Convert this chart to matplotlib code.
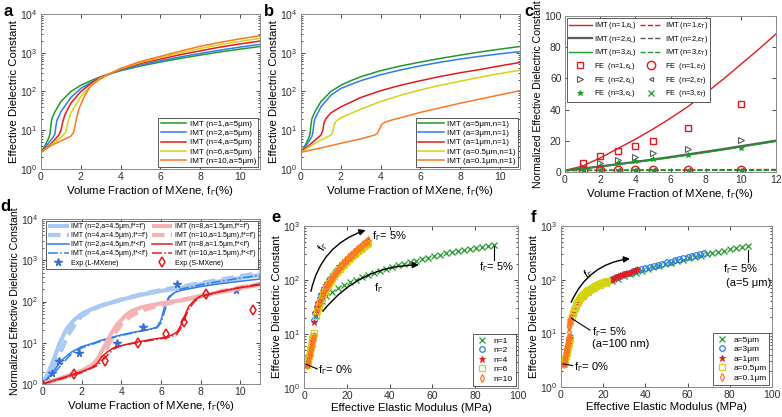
import matplotlib
matplotlib.use('Agg')
import matplotlib.pyplot as plt
from matplotlib.ticker import LogLocator, NullFormatter

plt.rcParams['font.family'] = ['Liberation Sans', 'DejaVu Sans']
plt.rcParams['mathtext.fontset'] = 'custom'
plt.rcParams['mathtext.rm'] = 'Liberation Sans'
plt.rcParams['mathtext.it'] = 'Liberation Sans:italic'
plt.rcParams['mathtext.bf'] = 'Liberation Sans:bold'

# ---------------- colours ----------------
GREEN = '#1f9a2a'
BLUE = '#2f7df0'
RED = '#e8191c'
YELLOW = '#d6d214'
ORANGE = '#ff7722'
GRAY = '#5a5a5a'
LBLUE = '#a9c9f2'
LRED = '#f3b3b3'

XLAB = r'Volume Fraction of MXene, f$_\Gamma$(%)'

# ---------------- panel a data ----------------
a_labels = ['IMT (n=1,a=5μm)', 'IMT (n=2,a=5μm)', 'IMT (n=4,a=5μm)',
            'IMT (n=6,a=5μm)', 'IMT (n=10,a=5μm)']
a_n1_x = [0, 0.2, 0.4, 0.45, 0.5, 0.55, 0.7, 1.0, 1.5, 2.0, 2.5, 3.0, 4, 5, 6, 7, 8, 9, 10, 11]
a_n1_y = [2.7, 4.0, 6.5, 8, 14, 20, 30, 55, 100, 145, 190, 240, 345, 455, 575, 715, 870, 1050, 1240, 1450]
a_n2_x = [0, 0.3, 0.6, 0.7, 0.75, 0.8, 1.0, 1.5, 2.0, 2.5, 3.0, 4, 5, 6, 7, 8, 9, 10, 11]
a_n2_y = [2.7, 4.2, 6.5, 8, 13, 18, 30, 70, 120, 170, 235, 355, 485, 625, 780, 960, 1170, 1400, 1650]
a_n4_x = [0, 0.5, 0.9, 1.0, 1.1, 1.2, 1.5, 2.0, 2.5, 3.0, 4, 5, 6, 7, 8, 9, 10, 11]
a_n4_y = [2.7, 4.5, 7.5, 10, 17, 25, 50, 100, 160, 235, 375, 530, 690, 890, 1120, 1400, 1690, 2000]
a_n6_x = [0, 0.5, 1.0, 1.25, 1.35, 1.5, 2.0, 2.5, 3.0, 4, 5, 6, 7, 8, 9, 10, 11]
a_n6_y = [2.7, 4.2, 6.5, 9, 16, 28, 75, 145, 225, 385, 565, 750, 990, 1290, 1620, 1970, 2350]
a_n10_x = [0, 0.5, 1.0, 1.5, 1.65, 1.75, 1.9, 2.2, 2.5, 3.0, 4, 5, 6, 7, 8, 9, 10, 11]
a_n10_y = [2.7, 4.0, 5.3, 7, 9, 17, 35, 80, 140, 215, 395, 595, 810, 1100, 1470, 1860, 2290, 2750]

# ---------------- panel b data ----------------
b_labels = ['IMT (a=5μm,n=1)', 'IMT (a=3μm,n=1)', 'IMT (a=1μm,n=1)',
            'IMT (a=0.5μm,n=1)', 'IMT (a=0.1μm,n=1)']
b_a5_x = a_n1_x
b_a5_y = a_n1_y
b_a3_x = [0, 0.3, 0.55, 0.6, 0.65, 0.7, 1.0, 1.5, 2, 3, 4, 5, 6, 7, 8, 9, 10, 11]
b_a3_y = [2.7, 4.3, 7, 9, 15, 20, 40, 80, 120, 190, 270, 360, 460, 570, 690, 810, 940, 1070]
b_a1_x = [0, 0.5, 1.0, 1.1, 1.15, 1.25, 1.5, 2, 3, 4, 5, 6, 7, 8, 9, 10, 11]
b_a1_y = [2.7, 4.5, 7.5, 10, 15, 20, 28, 40, 70, 105, 145, 190, 245, 305, 370, 460, 560]
b_a05_x = [0, 0.5, 1.0, 1.5, 1.6, 1.65, 1.75, 2, 3, 4, 5, 6, 7, 8, 9, 10, 11]
b_a05_y = [2.7, 4.0, 5.5, 7.5, 9, 13, 17, 21, 35, 55, 80, 110, 145, 185, 235, 290, 355]
b_a01_x = [0, 1, 2, 3, 3.7, 3.85, 3.95, 4.05, 4.2, 4.5, 5, 6, 7, 8, 9, 10, 11]
b_a01_y = [2.7, 3.5, 4.6, 6.0, 7.5, 8.5, 11, 14, 16, 18, 21, 29, 38, 50, 64, 82, 105]

# ---------------- panel c data ----------------
c_x = [0, 1, 2, 3, 4, 5, 6, 7, 8, 9, 10, 11, 12]
c_imt1_L = [1, 3.8, 9, 15, 21, 27.5, 34.5, 42, 50.5, 59.5, 69, 78.5, 88.5]
c_imt2_L = [1, 2.2, 3.6, 5.0, 6.5, 8.0, 9.6, 11.3, 13.0, 14.7, 16.5, 18.3, 20.1]
c_imt3_L = [1, 2.1, 3.4, 4.8, 6.2, 7.7, 9.2, 10.8, 12.5, 14.2, 16.0, 17.8, 19.6]
c_imt1_T = [1, 1.05, 1.1, 1.15, 1.2, 1.25, 1.3, 1.35, 1.4, 1.45, 1.5, 1.55, 1.6]
c_imt2_T = [1, 1.02, 1.04, 1.06, 1.08, 1.1, 1.12, 1.14, 1.16, 1.18, 1.2, 1.22, 1.24]
c_imt3_T = [1, 1.01, 1.02, 1.03, 1.04, 1.05, 1.06, 1.07, 1.08, 1.09, 1.1, 1.11, 1.12]
c_fe_x = [1, 2, 3, 4, 5, 7, 10]
c_fe1_L = [6, 10, 13.5, 16.5, 20, 28, 43.5]
c_fe2_L = [3.5, 5.5, 7.5, 9.5, 12.5, 15, 20.5]
c_fe3_L = [2.5, 4, 5.5, 7, 8.5, 11, 15.5]
c_fe1_T = [1.1, 1.1, 1.1, 1.1, 1.1, 1.1, 1.1]
c_fe2_T = [1.0, 1.0, 1.0, 1.0, 1.0, 1.0, 1.0]
c_fe3_T = [0.9, 0.9, 0.9, 0.9, 0.9, 0.9, 0.9]
c_labels = [r'IMT (n=1,ε$_{\rm L}$)', r'IMT (n=2,ε$_{\rm L}$)', r'IMT (n=3,ε$_{\rm L}$)',
            r'FE  (n=1,ε$_{\rm L}$)', r'FE  (n=2,ε$_{\rm L}$)', r'FE  (n=3,ε$_{\rm L}$)',
            r'IMT (n=1,ε$_{\rm T}$)', r'IMT (n=2,ε$_{\rm T}$)', r'IMT (n=3,ε$_{\rm T}$)',
            r'FE  (n=1,ε$_{\rm T}$)', r'FE  (n=2,ε$_{\rm T}$)', r'FE  (n=3,ε$_{\rm T}$)']

# ---------------- panel d data ----------------
d_lb1_x = [0, 0.3, 0.6, 0.9, 1.2, 1.6, 2, 2.5, 3, 4, 5, 6, 7, 8, 9, 10, 11]
d_lb1_y = [1, 1.8, 4, 10, 20, 35, 50, 65, 80, 110, 145, 180, 215, 260, 310, 370, 440]
d_lb2_x = [0, 0.5, 0.8, 1.0, 1.3, 1.7, 2, 2.5, 3, 4, 5, 6, 7, 8, 9, 10, 11]
d_lb2_y = [1, 2, 4, 7, 15, 30, 45, 62, 80, 112, 150, 190, 230, 280, 340, 410, 500]
d_b1_x = [0, 0.5, 1.0, 1.5, 2, 2.5, 3, 3.5, 4, 4.5, 5, 5.5, 5.8, 6.0, 6.2, 6.4, 6.7, 7, 8, 9, 10, 11]
d_b1_y = [1, 1.8, 3.8, 6, 8, 9.5, 11.5, 13.5, 15.5, 17.5, 19.5, 21.5, 24, 35, 80, 130, 165, 185, 230, 270, 310, 350]
d_b2_x = [0, 0.5, 1.0, 1.5, 2, 3, 4, 5, 5.8, 6.0, 6.2, 6.4, 6.7, 7, 8, 9, 10, 11]
d_b2_y = [1, 1.6, 3, 5.5, 7.5, 11, 15, 19, 23, 30, 60, 120, 170, 200, 255, 310, 370, 430]
d_lr1_x = [0, 1, 2, 2.5, 2.8, 3.0, 3.2, 3.5, 3.8, 4.2, 4.5, 5, 6, 7, 8, 9, 10, 11]
d_lr1_y = [1, 1.4, 2.1, 2.8, 4, 6, 9, 17, 28, 45, 58, 72, 90, 108, 135, 170, 210, 260]
d_lr2_x = [0, 1, 2, 2.8, 3.0, 3.3, 3.6, 4.0, 4.5, 5, 6, 7, 8, 9, 10, 11]
d_lr2_y = [1, 1.4, 2.0, 3.5, 4.5, 8, 15, 28, 45, 60, 82, 105, 135, 175, 220, 270]
d_r1_x = [0, 1, 2, 2.5, 2.8, 3.0, 3.3, 3.6, 4, 4.5, 5, 5.5, 6, 6.5, 6.8, 7.0, 7.2, 7.4, 7.7, 8, 9, 10, 11]
d_r1_y = [1, 1.4, 2.0, 2.5, 3.2, 4.5, 6, 7.5, 8.5, 9.7, 10.8, 12, 13, 15, 18, 26, 45, 75, 110, 135, 175, 215, 255]
d_r2_x = [0, 1, 2, 2.8, 3.0, 3.3, 3.6, 4, 5, 6, 6.5, 6.8, 7.0, 7.2, 7.4, 7.7, 8, 9, 10, 11]
d_r2_y = [1, 1.35, 1.9, 2.8, 3.5, 5, 7, 8.5, 10.5, 12.5, 14, 16, 22, 38, 65, 100, 130, 175, 220, 265]
d_expL_x = [0, 0.52, 0.86, 1.87, 3.79, 5.12, 6.8, 9.8]
d_expL_y = [1, 1.9, 3.6, 5.7, 10, 24, 265, 190]
d_expS_x = [0, 1.63, 3.18, 4.86, 6.25, 7.17, 8.28, 10.67]
d_expS_y = [1, 1.7, 3.7, 10, 16, 32, 150, 61]
d_labels = ['IMT (n=2,a=4.5μm,f*=f′)', 'IMT (n=4,a=4.5μm),f*=f′)',
            'IMT (n=2,a=4.5μm,f*<f′)', 'IMT (n=4,a=4.5μm),f*<f′)',
            'Exp (L-MXene)',
            'IMT (n=8,a=1.5μm,f*=f′)', 'IMT (n=10,a=1.5μm),f*=f′)',
            'IMT (n=8,a=1.5μm,f*<f′)', 'IMT (n=10,a=1.5μm),f*<f′)',
            'Exp (S-MXene)']

# ---------------- panel e data ----------------
e_n1_x = [1.5, 1.8, 2.1, 2.4, 2.7, 3.0, 3.3, 3.6, 3.9, 4.2, 5.5, 7.0, 8.5, 10.2, 13.0, 15.8, 18.6, 21.4,
          24.2, 27.0, 29.8, 32.6, 35.4, 38.2, 41.0, 43.8, 46.6, 49.4, 52.2, 55.0, 57.8, 60.6, 63.4,
          66.2, 69.0, 71.8, 74.6, 77.4, 80.2, 83.0, 85.8, 88.6]
e_n1_y = [2.7, 3.0, 3.4, 3.9, 4.5, 5.1, 5.8, 6.6, 7.4, 8.3, 22, 32, 41, 50, 61, 72, 82, 92, 102, 113,
          124, 136, 148, 160, 173, 186, 200, 214, 229, 244, 260, 276, 293, 310, 327, 344, 362, 380,
          398, 416, 434, 452]
e_n2_x = [1.5, 1.8, 2.1, 2.4, 2.7, 3.0, 3.3, 3.6, 3.9, 4.2, 4.5, 5.2, 5.9, 6.6, 7.3, 8.0, 8.7, 9.4,
          10.1, 10.8, 11.5, 12.2, 12.9, 13.6, 14.3, 15.0, 15.7, 16.4, 17.1, 17.8, 18.5, 19.2, 19.9,
          20.6, 21.3, 22.0, 22.7, 23.4, 24.1, 24.8, 25.5, 26.2, 26.9, 27.6, 28.3, 29.0, 29.7]
e_n2_y = [2.7, 3.0, 3.4, 3.9, 4.5, 5.1, 5.8, 6.6, 7.4, 8.5, 18, 25, 31, 38, 45, 52, 60, 68, 76, 85,
          94, 103, 113, 123, 133, 144, 155, 166, 178, 190, 203, 216, 229, 243, 257, 272, 287, 302,
          318, 334, 351, 368, 385, 403, 421, 440, 460]
e_n4_x = e_n2_x
e_n4_y = [2.7, 3.0, 3.4, 3.9, 4.5, 5.1, 5.8, 6.6, 7.5, 8.7, 17, 24, 31, 38, 46, 54, 62, 71, 80, 89,
          99, 109, 120, 131, 142, 154, 166, 179, 192, 206, 220, 235, 250, 266, 282, 299, 316, 334,
          352, 371, 390, 410, 430, 451, 473, 496, 520]
e_n6_x = [1.5, 1.8, 2.1, 2.4, 2.7, 3.0, 3.3, 3.6, 3.9, 4.2, 4.5, 5.5, 6.2, 6.9, 7.6, 8.3, 9.0, 9.7,
          10.4, 11.1, 11.8, 12.5, 13.2, 13.9, 14.6, 15.3, 16.0, 16.7, 17.4, 18.1, 18.8, 19.5, 20.2,
          20.9, 21.6, 22.3, 23.0, 23.7, 24.4, 25.1, 25.8, 26.5, 27.2, 27.9, 28.6, 29.3, 30.0]
e_n6_y = [2.7, 3.0, 3.4, 3.9, 4.5, 5.2, 6.0, 7.0, 8.2, 9.3, 10.5, 22, 27, 33, 40, 47, 54, 62, 70, 79,
          88, 97, 107, 117, 128, 139, 150, 162, 174, 187, 200, 214, 228, 243, 258, 274, 290, 307,
          324, 342, 360, 379, 399, 419, 440, 462, 485]
e_n10_x = [1.5, 1.8, 2.1, 2.4, 2.7, 3.0, 3.3, 3.6, 3.9, 4.2, 4.5, 6.0, 6.7, 7.4, 8.1, 8.8, 9.5, 10.2,
           10.9, 11.6, 12.3, 13.0, 13.7, 14.4, 15.1, 15.8, 16.5, 17.2, 17.9, 18.6, 19.3, 20.0, 20.7,
           21.4, 22.1, 22.8, 23.5, 24.2, 24.9, 25.6, 26.3, 27.0, 27.7, 28.4, 29.1, 29.8]
e_n10_y = [2.7, 2.9, 3.2, 3.6, 4.0, 4.6, 5.3, 6.1, 7.0, 8.0, 9.0, 27, 32, 38, 45, 52, 60, 68, 77, 86,
           96, 106, 117, 128, 140, 152, 165, 178, 192, 207, 222, 238, 255, 272, 290, 309, 328, 348,
           369, 391, 414, 437, 461, 486, 512, 540]
e_labels = ['n=1', 'n=2', 'n=4', 'n=6', 'n=10']

# ---------------- panel f data ----------------
f_a5_x = e_n1_x
f_a5_y = [2.7, 3.0, 3.4, 3.9, 4.5, 5.1, 5.8, 6.6, 7.4, 8.3, 24, 34, 42, 50, 60, 70, 79, 87, 96, 105,
          115, 125, 136, 147, 158, 170, 182, 195, 208, 222, 236, 251, 266, 282, 298, 314, 331, 348,
          365, 383, 401, 420]
f_a3_x = [1.5, 1.8, 2.1, 2.4, 2.7, 3.0, 3.3, 3.6, 3.9, 4.2, 4.5, 5.5, 7, 8.5, 10, 12, 14, 16, 18, 20,
          22, 24, 26, 28, 30, 32, 34, 36, 38, 40, 42, 44, 46, 48, 50, 52, 54, 56, 58, 60, 62, 64, 66, 68]
f_a3_y = [2.7, 3.0, 3.4, 3.8, 4.3, 4.9, 5.5, 6.2, 7.0, 7.8, 8.6, 24, 34, 42, 50, 58, 66, 74, 82, 89,
          95, 103, 111, 119, 127, 135, 143, 151, 159, 166, 174, 183, 191, 200, 209, 218, 228, 238,
          249, 260, 272, 284, 296, 310]
f_a1_x = [1.5, 1.8, 2.1, 2.4, 2.7, 3.0, 3.3, 3.6, 3.9, 4.2, 4.5, 5.5, 7, 8.5, 10, 11.5, 13, 14.5, 16,
          17.5, 19, 20.5, 22, 23, 24, 25, 26, 27, 28, 29, 30, 31, 32, 33, 34, 35, 36]
f_a1_y = [2.7, 3.0, 3.4, 3.8, 4.3, 4.9, 5.5, 6.2, 7.0, 7.8, 8.6, 24, 34, 42, 50, 56, 63, 69, 75, 80,
          86, 91, 96, 100, 104, 108, 112, 116, 120, 124, 128, 132, 136, 141, 146, 151, 157]
f_a05_x = [1.5, 1.8, 2.1, 2.4, 2.7, 3.0, 3.3, 3.6, 3.9, 4.2, 4.5, 5.0, 5.5, 6.0, 6.5, 7.0, 7.5, 8.0,
           8.5, 9.0, 9.5, 10, 10.5, 11, 11.5, 12, 12.5, 13, 13.5, 14, 14.5, 15, 15.5, 16, 16.5, 17,
           17.5, 18, 18.5, 19, 19.5, 20, 20.5, 21, 21.5, 22]
f_a05_y = [2.7, 3.0, 3.4, 3.8, 4.3, 4.9, 5.5, 6.2, 7.0, 7.8, 16, 20, 24, 27, 30, 33, 36, 39, 42, 45,
           47, 50, 52, 55, 57, 59, 61, 63, 65, 67, 69, 71, 73, 75, 77, 78, 80, 82, 83, 85, 86, 88, 89,
           91, 92, 94]
f_a01_x = [1.5, 1.6, 1.7, 1.8, 1.9, 2.0, 2.1, 2.2, 2.3, 2.4, 2.5, 2.6, 2.7, 2.8, 2.9, 3.0, 3.1, 3.2,
           3.3, 3.4, 3.5, 3.6, 3.7, 3.8, 3.9, 4.0, 4.1, 4.2, 4.3, 4.4, 4.5, 4.6, 4.7]
f_a01_y = [2.7, 2.8, 3.0, 3.1, 3.3, 3.5, 3.7, 3.9, 4.1, 4.3, 4.5, 4.8, 5.0, 5.3, 5.6, 5.9, 6.2, 6.5,
           6.9, 7.3, 7.7, 8.1, 8.6, 10.5, 13, 14.5, 15.5, 16.3, 17, 17.6, 18.2, 18.8, 19.4]
f_labels = ['a=5μm', 'a=3μm', 'a=1μm', 'a=0.5μm', 'a=0.1μm']

# ================= figure =================
W, H = 782, 417
fig = plt.figure(figsize=(W / 100, H / 100), dpi=100)


def box(l, r, t, b):
    return [l / W, 1 - b / H, (r - l) / W, (b - t) / H]


def style(ax, logy=False):
    ax.tick_params(direction='in', which='both', top=True, right=True, labelsize=7.5,
                   colors='#303030', width=0.6, pad=2.5)
    ax.tick_params(which='major', length=3)
    ax.tick_params(which='minor', length=1.6)
    for s in ax.spines.values():
        s.set_color('#8a8a8a')
        s.set_linewidth(0.7)
    if logy:
        ax.set_yscale('log')
        ax.yaxis.set_major_locator(LogLocator(base=10, numticks=10))
        ax.yaxis.set_minor_locator(LogLocator(base=10, subs=range(2, 10), numticks=20))
        ax.yaxis.set_minor_formatter(NullFormatter())


def frame(leg):
    leg.get_frame().set_linewidth(0.6)


LABFS = 8.2
LEGKW = dict(framealpha=1, edgecolor='#404040', fancybox=False)

# ---- a ----
ax = fig.add_axes(box(41, 260, 14, 169))
style(ax, True)
for xs, ys, c, lab in [(a_n1_x, a_n1_y, GREEN, a_labels[0]), (a_n2_x, a_n2_y, BLUE, a_labels[1]),
                       (a_n4_x, a_n4_y, RED, a_labels[2]), (a_n6_x, a_n6_y, YELLOW, a_labels[3]),
                       (a_n10_x, a_n10_y, ORANGE, a_labels[4])]:
    ax.plot(xs, ys, color=c, lw=1.1, label=lab)
ax.set_xlim(0, 11)
ax.set_ylim(1, 1e4)
ax.set_xticks([0, 2, 4, 6, 8, 10])
ax.set_xlabel(XLAB, fontsize=LABFS, labelpad=1)
ax.set_ylabel('Effective Dielectric Constant', fontsize=LABFS, labelpad=1)
frame(ax.legend(loc='lower right', fontsize=5.8, handlelength=3.2, labelspacing=0.2, borderpad=0.3,
                handletextpad=0.4, borderaxespad=0.2, **LEGKW))

# ---- b ----
ax = fig.add_axes(box(301, 520, 14, 169))
style(ax, True)
for xs, ys, c, lab in [(b_a5_x, b_a5_y, GREEN, b_labels[0]), (b_a3_x, b_a3_y, BLUE, b_labels[1]),
                       (b_a1_x, b_a1_y, RED, b_labels[2]), (b_a05_x, b_a05_y, YELLOW, b_labels[3]),
                       (b_a01_x, b_a01_y, ORANGE, b_labels[4])]:
    ax.plot(xs, ys, color=c, lw=1.1, label=lab)
ax.set_xlim(0, 11)
ax.set_ylim(1, 1e4)
ax.set_xticks([0, 2, 4, 6, 8, 10])
ax.set_xlabel(XLAB, fontsize=LABFS, labelpad=1)
ax.set_ylabel('Effective Dielectric Constant', fontsize=LABFS, labelpad=1)
frame(ax.legend(loc='lower right', fontsize=5.8, handlelength=3.2, labelspacing=0.2, borderpad=0.3,
                handletextpad=0.4, borderaxespad=0.2, **LEGKW))

# ---- c ----
ax = fig.add_axes(box(565, 776, 16, 172))
style(ax, False)
h1, = ax.plot(c_x, c_imt1_L, color=RED, lw=1.0)
h2, = ax.plot(c_x, c_imt2_L, color=GRAY, lw=1.6)
h3, = ax.plot(c_x, c_imt3_L, color=GREEN, lw=1.0)
h4, = ax.plot(c_x, c_imt1_T, color=RED, lw=1.0, ls='--')
h5, = ax.plot(c_x, c_imt2_T, color=GRAY, lw=1.0, ls='--')
h6, = ax.plot(c_x, c_imt3_T, color=GREEN, lw=1.0, ls='--')
m1, = ax.plot(c_fe_x, c_fe1_L, ls='none', marker='s', ms=4, mfc='none', mec=RED, mew=1.0)
m2, = ax.plot(c_fe_x, c_fe2_L, ls='none', marker='>', ms=4.5, mfc='none', mec=GRAY, mew=0.8)
m3, = ax.plot(c_fe_x, c_fe3_L, ls='none', marker='*', ms=4, color=GREEN, mew=0.6)
m4, = ax.plot(c_fe_x, c_fe1_T, ls='none', marker='o', ms=6, mfc='none', mec=RED, mew=1.0)
m5, = ax.plot(c_fe_x, c_fe2_T, ls='none', marker='<', ms=3, mfc='none', mec=GRAY, mew=0.8)
m6, = ax.plot(c_fe_x, c_fe3_T, ls='none', marker='x', ms=4, color=GREEN, mew=0.9)
ax.set_xlim(0, 12)
ax.set_ylim(0, 100)
ax.set_xticks([0, 2, 4, 6, 8, 10, 12])
ax.set_yticks([0, 20, 40, 60, 80, 100])
ax.set_xlabel(XLAB, fontsize=LABFS, labelpad=1)
ax.set_ylabel('Normalized Effective Dielectric Constant', fontsize=7.6, labelpad=1)
frame(ax.legend([h1, h2, h3, m1, m2, m3, h4, h5, h6, m4, m5, m6], c_labels, loc='upper left', ncol=2,
                fontsize=5.4, handlelength=3.0, labelspacing=0.35, borderpad=0.3, columnspacing=0.4,
                handletextpad=0.3, borderaxespad=0.25, **LEGKW))

# ---- d ----
ax = fig.add_axes(box(42, 260, 219, 384))
style(ax, True)
hd = []
hd.append(ax.plot(d_lb1_x, d_lb1_y, color=LBLUE, lw=3.0, solid_capstyle='butt')[0])
hd.append(ax.plot(d_lb2_x, d_lb2_y, color=LBLUE, lw=3.0, ls=(0, (3, 1.5)))[0])
hd.append(ax.plot(d_b1_x, d_b1_y, color=BLUE, lw=1.1)[0])
hd.append(ax.plot(d_b2_x, d_b2_y, color=BLUE, lw=1.1, ls='-.')[0])
hd.append(ax.plot(d_expL_x, d_expL_y, ls='none', marker='*', ms=5.5, color='#3a6fd0')[0])
hd.append(ax.plot(d_lr1_x, d_lr1_y, color=LRED, lw=3.0, solid_capstyle='butt')[0])
hd.append(ax.plot(d_lr2_x, d_lr2_y, color=LRED, lw=3.0, ls=(0, (3, 1.5)))[0])
hd.append(ax.plot(d_r1_x, d_r1_y, color=RED, lw=1.1)[0])
hd.append(ax.plot(d_r2_x, d_r2_y, color=RED, lw=1.1, ls='-.')[0])
hd.append(ax.plot(d_expS_x, d_expS_y, ls='none', marker='d', ms=5, mfc='none', mec=RED, mew=1.1)[0])
ax.set_xlim(0, 11)
ax.set_ylim(1, 1e4)
ax.set_xticks([0, 2, 4, 6, 8, 10])
ax.set_xlabel(XLAB, fontsize=LABFS, labelpad=1)
ax.set_ylabel('Normalized Effective Dielectric Constant', fontsize=7.6, labelpad=1)
frame(ax.legend(hd, d_labels, loc='upper right', ncol=2, fontsize=5.0, handlelength=3.0,
                labelspacing=0.3, borderpad=0.3, columnspacing=0.5, handletextpad=0.4,
                borderaxespad=0.3, **LEGKW))

# ---- e ----
ax = fig.add_axes(box(304, 518, 226, 388))
style(ax, True)
ax.plot(e_n1_x, e_n1_y, ls='none', marker='x', ms=4, color=GREEN, mew=0.9, label=e_labels[0])
ax.plot(e_n2_x, e_n2_y, ls='none', marker='o', ms=4, mfc='none', mec=BLUE, mew=0.9, label=e_labels[1])
ax.plot(e_n4_x, e_n4_y, ls='none', marker='*', ms=4.5, color=RED, mew=0.6, label=e_labels[2])
ax.plot(e_n6_x, e_n6_y, ls='none', marker='s', ms=3.8, mfc='none', mec=YELLOW, mew=0.9, label=e_labels[3])
ax.plot(e_n10_x, e_n10_y, ls='none', marker='d', ms=4, mfc='none', mec=ORANGE, mew=0.9, label=e_labels[4])
ax.set_xlim(0, 100)
ax.set_ylim(1, 1e3)
ax.set_xticks([0, 20, 40, 60, 80, 100])
ax.set_xlabel('Effective Elastic Modulus (MPa)', fontsize=LABFS, labelpad=1)
ax.set_ylabel('Effective Dielectric Constant', fontsize=LABFS, labelpad=1)
arrow = dict(arrowstyle='-|>', color='black', lw=1.0, mutation_scale=9)
ax.annotate('', xy=(30, 870), xytext=(3, 55),
            arrowprops=dict(arrow, connectionstyle='arc3,rad=-0.3'))
ax.annotate('', xy=(55, 190), xytext=(8, 24),
            arrowprops=dict(arrow, connectionstyle='arc3,rad=-0.25'))
ax.text(9, 420, r'f$_\Gamma$', fontsize=8, rotation=60, ha='center', va='center')
ax.text(35, 72, r'f$_\Gamma$', fontsize=8, rotation=0, ha='center', va='center')
ax.text(32, 650, r'f$_\Gamma$= 5%', fontsize=8, ha='left', va='center')
ax.text(82, 175, r'f$_\Gamma$= 5%', fontsize=8, ha='left', va='center')
ax.plot([88.8, 88.8], [230, 420], color='black', lw=0.8)
ax.plot([1, 6.2], [2.75, 2.25], color='black', lw=0.8)
ax.text(6.5, 2.15, r'f$_\Gamma$= 0%', fontsize=8, ha='left', va='center')
frame(ax.legend(loc='lower right', fontsize=6, handlelength=1.5, labelspacing=0.2, borderpad=0.35,
                handletextpad=0.6, borderaxespad=0.3, **LEGKW))

# ---- f ----
ax = fig.add_axes(box(561, 772, 226, 387))
style(ax, True)
ax.plot(f_a5_x, f_a5_y, ls='none', marker='x', ms=4, color=GREEN, mew=0.9, label=f_labels[0])
ax.plot(f_a3_x, f_a3_y, ls='none', marker='o', ms=4, mfc='none', mec=BLUE, mew=0.9, label=f_labels[1])
ax.plot(f_a1_x, f_a1_y, ls='none', marker='*', ms=4.5, color=RED, mew=0.6, label=f_labels[2])
ax.plot(f_a05_x, f_a05_y, ls='none', marker='s', ms=3.8, mfc='none', mec=YELLOW, mew=0.9, label=f_labels[3])
ax.plot(f_a01_x, f_a01_y, ls='none', marker='d', ms=4, mfc='none', mec=ORANGE, mew=0.9, label=f_labels[4])
ax.set_xlim(0, 100)
ax.set_ylim(1, 1e3)
ax.set_xticks([0, 20, 40, 60, 80, 100])
ax.set_xlabel('Effective Elastic Modulus (MPa)', fontsize=LABFS, labelpad=1)
ax.set_ylabel('Effective Dielectric Constant', fontsize=LABFS, labelpad=1)
ax.annotate('', xy=(34, 250), xytext=(4.3, 34),
            arrowprops=dict(arrow, connectionstyle='arc3,rad=-0.3'))
ax.text(13, 130, r'f$_\Gamma$', fontsize=8, rotation=30, ha='center', va='center')
ax.plot([88.7, 88.7], [210, 350], color='black', lw=0.8)
ax.text(77, 160, r'f$_\Gamma$= 5%', fontsize=8, ha='left', va='center')
ax.text(78, 88, '(a=5 μm)', fontsize=8, ha='left', va='center')
ax.plot([5, 13.7], [19, 11.5], color='black', lw=0.8)
ax.text(14.5, 10.7, r'f$_\Gamma$= 5%', fontsize=8, ha='left', va='center')
ax.text(14.5, 6.2, '(a=100 nm)', fontsize=8, ha='left', va='center')
ax.plot([1, 5.5], [2.7, 2.5], color='black', lw=0.8)
ax.text(6, 2.3, r'f$_\Gamma$= 0%', fontsize=8, ha='left', va='center')
frame(ax.legend(loc='lower right', fontsize=6, handlelength=1.5, labelspacing=0.2, borderpad=0.35,
                handletextpad=0.6, borderaxespad=0.3, **LEGKW))

# ---- panel letters ----
for lt, x, y in [('a', 4, 12), ('b', 264, 12), ('c', 524, 12), ('d', 0, 206), ('e', 271, 218), ('f', 531, 218)]:
    fig.text(x / W, 1 - y / H, lt, fontsize=12, fontweight='bold', ha='left', va='center')

fig.savefig('out.png', dpi=100)
